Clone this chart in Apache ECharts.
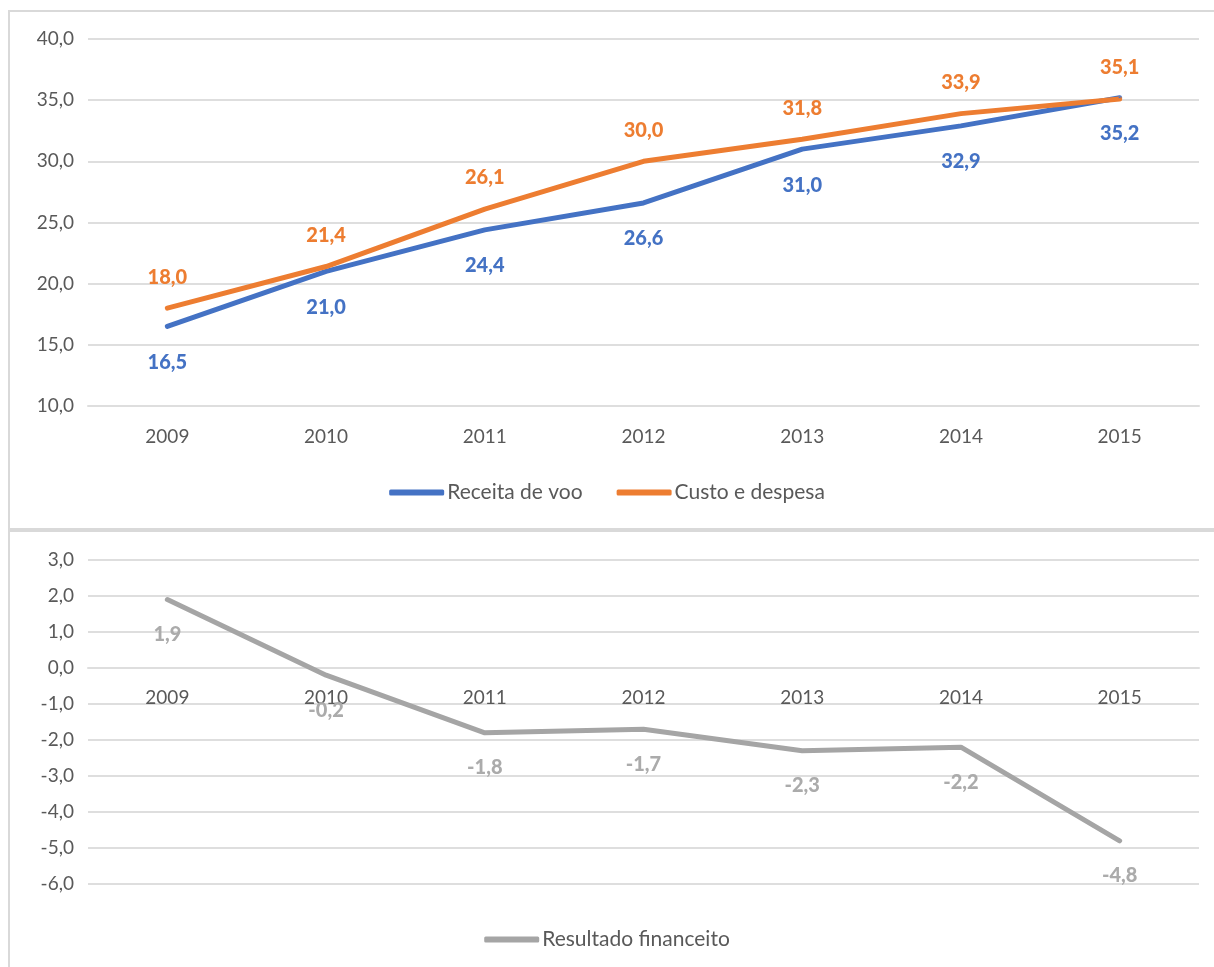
<!DOCTYPE html>
<html>
<head>
<meta charset="utf-8">
<script src="https://cdn.jsdelivr.net/npm/echarts@6/dist/echarts.min.js"></script>
<style>
html,body{margin:0;padding:0;background:#fff;}
#chart{width:1214px;height:967px;}
</style>
</head>
<body>
<div id="chart"></div>
<script>
const years = ['2009','2010','2011','2012','2013','2014','2015'];
const receitaVoo = [16.5, 21.0, 24.4, 26.6, 31.0, 32.9, 35.2];
const custoDespesa = [18.0, 21.4, 26.1, 30.0, 31.8, 33.9, 35.1];
const resultadoFinanceiro = [1.9, -0.2, -1.8, -1.7, -2.3, -2.2, -4.8];
const seriesNames = ['Receita de voo', 'Custo e despesa', 'Resultado financeito'];

const FONT = 'Lato, "Open Sans", sans-serif';
const fmt = v => Number(v).toFixed(1).replace('.', ',');
const gridColor = '#dedede';
const textColor = '#595959';

const chart = echarts.init(document.getElementById('chart'), null, {renderer: 'canvas'});

function xAxisCfg(gi, margin, offset) {
  return {
    type: 'category', gridIndex: gi, data: years, boundaryGap: true,
    position: 'bottom', offset: offset,
    axisLine: {show: true, onZero: false, lineStyle: {color: gridColor, width: 2}},
    axisTick: {show: false},
    axisLabel: {color: textColor, fontFamily: FONT, fontSize: 19, margin: margin}
  };
}
function yAxisCfg(gi, min, max, interval) {
  return {
    type: 'value', gridIndex: gi, min: min, max: max, interval: interval,
    axisLine: {show: false}, axisTick: {show: false},
    splitLine: {lineStyle: {color: gridColor, width: 2}},
    axisLabel: {color: textColor, fontFamily: FONT, fontSize: 19, margin: 14, formatter: v => fmt(v)}
  };
}
function lineSeries(name, data, color, labelColor, pos, dist, xi) {
  return {
    name: name, type: 'line', data: data, xAxisIndex: xi, yAxisIndex: xi,
    symbol: 'circle', symbolSize: 2, showSymbol: true,
    itemStyle: {color: color},
    lineStyle: {color: color, width: 5, cap: 'round', join: 'round'},
    label: {show: true, position: pos, distance: dist, color: labelColor,
      fontFamily: FONT, fontWeight: 900, fontSize: 20, formatter: p => fmt(p.value)},
    emphasis: {disabled: true},
    animation: false, z: 3
  };
}

const option = {
  backgroundColor: '#ffffff',
  animation: false,
  graphic: [
    {type: 'rect', shape: {x: 9, y: 11, width: 1230, height: 518}, style: {fill: 'none', stroke: '#d9d9d9', lineWidth: 2}, z: -1},
    {type: 'rect', shape: {x: 9, y: 531, width: 1230, height: 460}, style: {fill: 'none', stroke: '#d9d9d9', lineWidth: 2}, z: -1}
  ],
  grid: [
    {left: 88, right: 15, top: 39, height: 367},
    {left: 88, right: 15, top: 560, height: 324}
  ],
  legend: [
    {data: [seriesNames[0], seriesNames[1]], top: 477, left: 'center', icon: 'roundRect',
      itemWidth: 55, itemHeight: 6, itemGap: 34,
      textStyle: {color: textColor, fontFamily: FONT, fontSize: 21, padding: [0, 0, 0, -2]}},
    {data: [seriesNames[2]], top: 924, left: 'center', icon: 'roundRect',
      itemWidth: 55, itemHeight: 6,
      textStyle: {color: textColor, fontFamily: FONT, fontSize: 21, padding: [0, 0, 0, -2]}}
  ],
  xAxis: [xAxisCfg(0, 21, 0), xAxisCfg(1, 20, -216)],
  yAxis: [yAxisCfg(0, 10, 40, 5), yAxisCfg(1, -6, 3, 1)],
  series: [
    lineSeries(seriesNames[0], receitaVoo, '#4472C4', '#4472C4', 'bottom', 25, 0),
    lineSeries(seriesNames[1], custoDespesa, '#ED7D31', '#ED7D31', 'top', 20, 0),
    lineSeries(seriesNames[2], resultadoFinanceiro, '#A5A5A5', '#ABABAB', 'bottom', 24, 1)
  ]
};
chart.setOption(option);
</script>
</body>
</html>
